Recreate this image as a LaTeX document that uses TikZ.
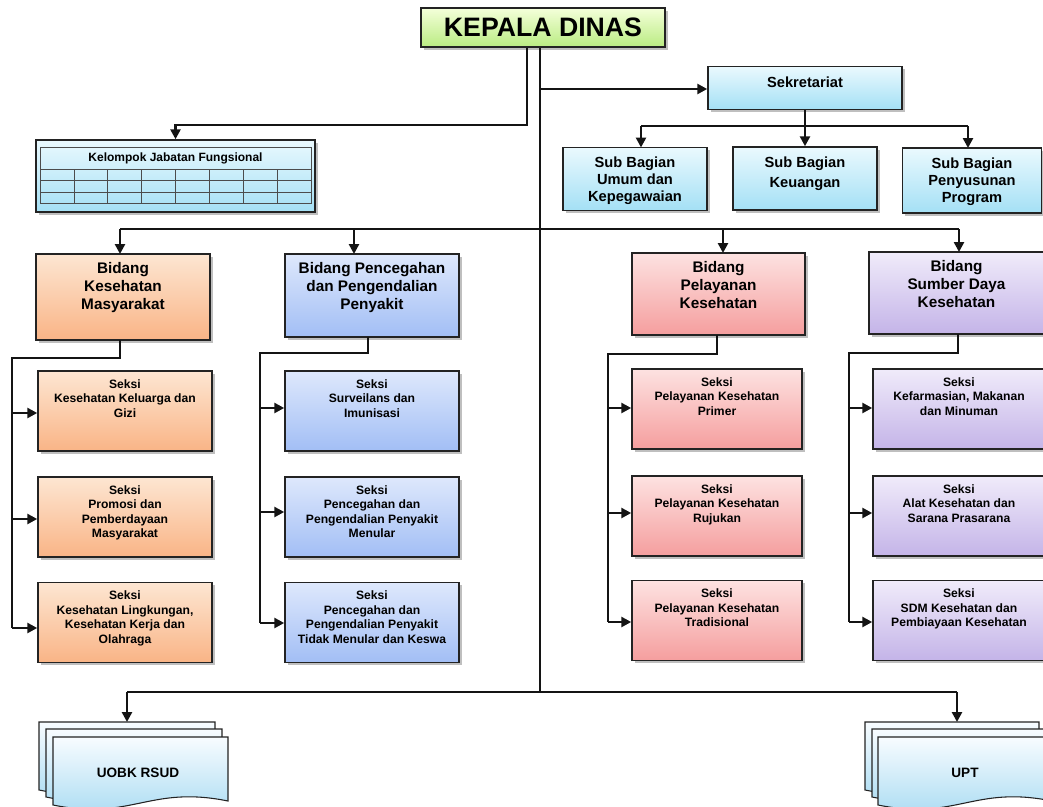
\documentclass[tikz,border=0pt]{standalone}
\usepackage{fontspec}
\setmainfont{Liberation Sans}
\usetikzlibrary{arrows.meta,shadows}
\definecolor{kdT}{RGB}{244,255,218}
\definecolor{kdB}{RGB}{186,236,130}
\definecolor{cyT}{RGB}{234,249,254}
\definecolor{cyB}{RGB}{164,224,245}
\definecolor{orT}{RGB}{253,230,210}
\definecolor{orB}{RGB}{249,180,134}
\definecolor{blT}{RGB}{222,232,252}
\definecolor{blB}{RGB}{162,190,245}
\definecolor{pkT}{RGB}{253,226,225}
\definecolor{pkB}{RGB}{245,158,158}
\definecolor{puT}{RGB}{240,235,250}
\definecolor{puB}{RGB}{196,180,232}
\definecolor{dcT}{RGB}{248,252,255}
\definecolor{dcB}{RGB}{166,218,242}
\definecolor{edge}{RGB}{35,35,35}
\def\pxu{0.75pt}
\newcommand\docpg[3]{%
  \path[docsty] (#1,#2) -- (#3,#2) -- (#3,{#2+64})
    .. controls ({#3-0.45*(#3-#1)},{#2+64-16}) and ({#1+0.45*(#3-#1)},{#2+68+16}) .. (#1,{#2+68}) -- cycle;}
\begin{document}
\begin{tikzpicture}[x=0.75pt,y=-0.75pt,
  ln/.style={line width=2pt, black!92, line join=miter},
  arr/.style={ln, -{Triangle[length=7.5pt,width=7.5pt]}},
  box/.style={draw=edge, line width=1.1pt, shade, inner sep=0pt,
    drop shadow={shadow xshift=2.2pt,shadow yshift=-2.2pt,opacity=0.5}},
  kdcol/.style={top color=kdT, bottom color=kdB},
  cycol/.style={top color=cyT, bottom color=cyB},
  orcol/.style={top color=orT, bottom color=orB},
  blcol/.style={top color=blT, bottom color=blB},
  pkcol/.style={top color=pkT, bottom color=pkB},
  pucol/.style={top color=puT, bottom color=puB},
  docsty/.style={draw=edge, line width=0.8pt, top color=dcT, bottom color=dcB},
  toplbl/.style={anchor=north, inner sep=0pt, align=center, yshift=-#1},
  sek/.style={toplbl=6.75pt, font=\bfseries\fontsize{9.1}{10.9}\selectfont},
  bid/.style={toplbl=6.9pt, font=\bfseries\fontsize{11.5}{13.5}\selectfont},
  sub/.style={toplbl=7.5pt, font=\bfseries\fontsize{11}{12.8}\selectfont},
  sbox/.style={box, minimum height={80*\pxu}},
]
\useasboundingbox (0,0) rectangle (1043,807);

% ---------- top ----------
\node[box, kdcol, minimum width={244*\pxu}, minimum height={39*\pxu},
  font=\bfseries\fontsize{20}{24}\selectfont] (kd) at (543,27.5) {KEPALA DINAS};

\node[box, cycol, minimum width={194*\pxu}, minimum height={43*\pxu},
  label={[toplbl=8pt, font=\bfseries\fontsize{11}{13}\selectfont]north:Sekretariat}] (sek) at (805,88) {};

\node[box, cycol, minimum width={144*\pxu}, minimum height={63*\pxu},
  label={[sub]north:Sub Bagian\\Umum dan\\Kepegawaian}] (sb1) at (635,179) {};
\node[box, cycol, minimum width={144*\pxu}, minimum height={63*\pxu},
  label={[sub, font=\bfseries\fontsize{11}{15}\selectfont]north:Sub Bagian\\Keuangan}] (sb2) at (805,178.5) {};
\node[box, cycol, minimum width={139*\pxu}, minimum height={65*\pxu},
  label={[sub]north:Sub Bagian\\Penyusunan\\Program}] (sb3) at (972,180.5) {};

% Kelompok Jabatan Fungsional
\node[box, cycol, minimum width={279*\pxu}, minimum height={72*\pxu}] (kjf) at (175.5,176) {};
\draw[black!70, line width=0.6pt] (40,147) rectangle (311,203);
\draw[black!70, line width=0.6pt] (40,169) -- (311,169) (40,180.5) -- (311,180.5) (40,192) -- (311,192);
\foreach \cx in {73.9,107.8,141.6,175.5,209.4,243.2,277.1}
  \draw[black!70, line width=0.6pt] (\cx,169) -- (\cx,203);
\node[font=\bfseries\fontsize{9}{11}\selectfont, inner sep=0pt] (kjft) at (175.5,158) {Kelompok Jabatan Fungsional};

% ---------- Bidang ----------
\node[box, orcol, minimum width={174*\pxu}, minimum height={86*\pxu},
  label={[bid]north:Bidang\\Kesehatan\\Masyarakat}] (b1) at (123,297) {};
\node[box, blcol, minimum width={174*\pxu}, minimum height={83*\pxu},
  label={[bid]north:Bidang Pencegahan\\dan Pengendalian\\Penyakit}] (b2) at (372,295.5) {};
\node[box, pkcol, minimum width={173*\pxu}, minimum height={82*\pxu},
  label={[bid]north:Bidang\\Pelayanan\\Kesehatan}] (b3) at (718.5,294) {};
\node[box, pucol, minimum width={175*\pxu}, minimum height={82*\pxu},
  label={[bid]north:Bidang\\Sumber Daya\\Kesehatan}] (b4) at (956.5,293) {};

% ---------- Seksi ----------
\node[sbox, orcol, minimum width={174*\pxu}, label={[sek]north:Seksi\\Kesehatan Keluarga dan\\Gizi}] (s11) at (125,411) {};
\node[sbox, orcol, minimum width={174*\pxu}, label={[sek]north:Seksi\\Promosi dan\\Pemberdayaan\\Masyarakat}] (s12) at (125,517) {};
\node[sbox, orcol, minimum width={174*\pxu}, label={[sek]north:Seksi\\Kesehatan Lingkungan,\\Kesehatan Kerja dan\\Olahraga}] (s13) at (125,622.5) {};

\node[sbox, blcol, minimum width={174*\pxu}, label={[sek]north:Seksi\\Surveilans dan\\Imunisasi}] (s21) at (372,411) {};
\node[sbox, blcol, minimum width={174*\pxu}, label={[sek]north:Seksi\\Pencegahan dan\\Pengendalian Penyakit\\Menular}] (s22) at (372,517) {};
\node[sbox, blcol, minimum width={174*\pxu}, label={[sek]north:Seksi\\Pencegahan dan\\Pengendalian Penyakit\\Tidak Menular dan Keswa}] (s23) at (372,622.5) {};

\node[sbox, pkcol, minimum width={170*\pxu}, label={[sek]north:Seksi\\Pelayanan Kesehatan\\Primer}] (s31) at (717,409) {};
\node[sbox, pkcol, minimum width={170*\pxu}, label={[sek]north:Seksi\\Pelayanan Kesehatan\\Rujukan}] (s32) at (717,516) {};
\node[sbox, pkcol, minimum width={170*\pxu}, label={[sek]north:Seksi\\Pelayanan Kesehatan\\Tradisional}] (s33) at (717,620.5) {};

\node[sbox, pucol, minimum width={172*\pxu}, label={[sek]north:Seksi\\Kefarmasian, Makanan\\dan Minuman}] (s41) at (959,409) {};
\node[sbox, pucol, minimum width={172*\pxu}, label={[sek]north:Seksi\\Alat Kesehatan dan\\Sarana Prasarana}] (s42) at (959,516) {};
\node[sbox, pucol, minimum width={172*\pxu}, label={[sek]north:Seksi\\SDM Kesehatan dan\\Pembiayaan Kesehatan}] (s43) at (959,620.5) {};

% ---------- documents ----------
\docpg{39}{722}{215}
\docpg{46}{729}{222}
\docpg{53}{737}{228}
\docpg{865}{722}{1039}
\docpg{872}{729}{1046}
\docpg{878}{737}{1052}
\node[font=\bfseries\fontsize{10.2}{12}\selectfont] (uobk) at (138,773) {UOBK RSUD};
\node[font=\bfseries\fontsize{10.2}{12}\selectfont] (upt) at (965,773) {UPT};
\coordinate (uobktop) at (127,722);
\coordinate (upttop) at (957,722);

% ---------- connectors ----------
\coordinate (xa) at (527,0);
\coordinate (xt) at (540,0);
\coordinate (bot) at (540,692);
% to KJF
\draw[arr] (kd.south -| xa) -- (527,125) -- (175.5,125) -- (kjf.north);
% trunk
\draw[ln] (kd.south -| xt) -- (bot);
% Sekretariat
\draw[arr] (540,89) -- (sek.west |- 540,89);
\draw[ln] (641,126) -- (968,126);
\draw[arr] (sek.south) -- (sb2.north);
\draw[arr] (641,126) -- (641,147.5);
\draw[arr] (968,126) -- (968,148);
% Bidang bar
\draw[ln] (120,229) -- (959,229);
\draw[arr] (120,229) -- (120,254);
\draw[arr] (354,229) -- (354,254);
\draw[arr] (723,229) -- (723,253);
\draw[arr] (959,229) -- (959,252);
% column 1
\draw[ln] (120,340) -- (120,358) -- (12,358) -- (12,628);
\draw[arr] (12,413) -- (s11.west |- 12,413);
\draw[arr] (12,519) -- (s12.west |- 12,519);
\draw[arr] (12,628) -- (s13.west |- 12,628);
% column 2
\draw[ln] (368,337) -- (368,353) -- (260,353) -- (260,623);
\draw[arr] (260,408) -- (s21.west |- 260,408);
\draw[arr] (260,512) -- (s22.west |- 260,512);
\draw[arr] (260,623) -- (s23.west |- 260,623);
% column 3
\draw[ln] (717,335) -- (717,354) -- (608,354) -- (608,622);
\draw[arr] (608,408) -- (s31.west |- 608,408);
\draw[arr] (608,513) -- (s32.west |- 608,513);
\draw[arr] (608,622) -- (s33.west |- 608,622);
% column 4
\draw[ln] (958,334) -- (958,353) -- (849,353) -- (849,622);
\draw[arr] (849,408) -- (s41.west |- 849,408);
\draw[arr] (849,513) -- (s42.west |- 849,513);
\draw[arr] (849,622) -- (s43.west |- 849,622);
% bottom
\draw[ln] (127,692) -- (957,692);
\draw[arr] (127,692) -- (uobktop);
\draw[arr] (957,692) -- (upttop);
\end{tikzpicture}
\end{document}
